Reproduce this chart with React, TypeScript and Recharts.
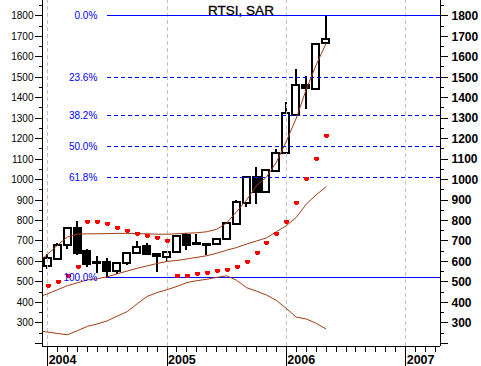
import React from 'react';
import {Bar, ComposedChart, Customized, Line, ReferenceLine, Scatter, XAxis, YAxis} from 'recharts';

const FONT = '"Liberation Sans", Arial, sans-serif';
const BROWN = '#a03c14';
const BLUE = '#0000ff';

// months on the x axis, Dec 2003 .. May 2006 (Dec 2003 only feeds the bands)
const months = [
  '2003-12',
  '2004-01', '2004-02', '2004-03', '2004-04', '2004-05', '2004-06',
  '2004-07', '2004-08', '2004-09', '2004-10', '2004-11', '2004-12',
  '2005-01', '2005-02', '2005-03', '2005-04', '2005-05', '2005-06',
  '2005-07', '2005-08', '2005-09', '2005-10', '2005-11', '2005-12',
  '2006-01', '2006-02', '2006-03', '2006-04', '2006-05',
];
const years = ['2004', '2005', '2006', '2007'];

// monthly candles Jan 2004 .. May 2006
const openVals = [578, 613, 681, 765, 650, 598, 597, 555, 590, 641, 675, 635, 622, 644, 730, 688, 686, 684, 711, 785, 885, 1012, 941, 1044, 1129, 1316, 1462, 1440, 1665];
const highVals = [635, 690, 765, 798, 662, 625, 617, 595, 645, 700, 690, 640, 648, 725, 740, 732, 690, 715, 790, 900, 1015, 1060, 1050, 1148, 1380, 1540, 1507, 1665, 1800];
const lowVals = [565, 605, 660, 630, 575, 543, 520, 540, 585, 638, 630, 548, 600, 640, 657, 680, 632, 680, 706, 778, 868, 882, 935, 1040, 1125, 1310, 1345, 1435, 1660];
const closeVals = [618, 680, 762, 641, 588, 594, 551, 592, 640, 672, 637, 628, 644, 722, 678, 684, 682, 711, 787, 888, 1012, 941, 1045, 1130, 1324, 1462, 1446, 1660, 1686];
const sarVals = [478, 500, 527, 573, 795, 795, 782, 763, 751, 735, 722, 713, 701, 527, 530, 537, 545, 555, 558, 573, 599, 641, 690, 735, 792, 885, 1003, 1101, 1215];

// bollinger bands, Dec 2003 .. May 2006
const bbUpper = [595, 635, 680, 720, 733, 735, 735, 736, 737, 737, 736, 735, 733, 733, 735, 738, 740, 745, 757, 788, 843, 900, 970, 1012, 1085, 1187, 1300, 1440, 1560, 1665];
const bbMid = [425, 442, 462, 482, 496, 510, 516, 525, 540, 553, 567, 578, 590, 600, 605, 612, 620, 628, 640, 655, 668, 685, 700, 715, 745, 775, 815, 880, 925, 965];
const bbLower = [262, 255, 248, 242, 262, 283, 295, 310, 333, 355, 393, 429, 448, 462, 478, 497, 506, 513, 522, 530, 508, 472, 455, 436, 410, 370, 328, 319, 298, 270];

// fibonacci retracement from the Jul 2004 low to the May 2006 high
const fibLabels = ['0.0%', '23.6%', '38.2%', '50.0%', '61.8%', '100.0%'];
const fibRatios = [0, 0.236, 0.382, 0.5, 0.618, 1];
const fibHigh = 1800;
const fibLow = 520;
const fibStart = 6;

const yTicks = [200, 250, 300, 350, 400, 450, 500, 550, 600, 650, 700, 750, 800, 850, 900, 950, 1000, 1050, 1100, 1150, 1200, 1250, 1300, 1350, 1400, 1450, 1500, 1550, 1600, 1650, 1700, 1750, 1800, 1850];
const xTicks = [0, 1, 2, 3, 4, 5, 6, 7, 8, 9, 10, 11, 12, 13, 14, 15, 16, 17, 18, 19, 20, 21, 22, 23, 24, 25, 26, 27, 28, 29, 30, 31, 32, 33, 34, 35, 36, 37, 38, 39];

const X_DOMAIN: [number, number] = [-0.57, 39.45];
const Y_DOMAIN: [number, number] = [187, 1877];

const data = months.map((m, k) => {
  const c = k - 1;
  const has = c >= 0;
  return {
    i: c,
    month: m,
    open: has ? openVals[c] : null,
    high: has ? highVals[c] : null,
    low: has ? lowVals[c] : null,
    close: has ? closeVals[c] : null,
    range: has ? [lowVals[c], highVals[c]] : null,
    upper: bbUpper[k],
    mid: bbMid[k],
    lower: bbLower[k],
  };
});

const sarData = sarVals.map((v, c) => ({i: c, sar: v}));

const Candle = (props: any) => {
  const {x, y, width, height, payload} = props;
  if (!payload || payload.open == null) return null;
  const {open, close, high, low} = payload;
  const top = height >= 0 ? y : y + height;
  const h = Math.abs(height);
  const ratio = high === low ? 0 : h / (high - low);
  const cx = Math.round(x + width / 2);
  const yo = top + (high - open) * ratio;
  const yc = top + (high - close) * ratio;
  const bt = Math.round(Math.min(yo, yc));
  const bb = Math.round(Math.max(yo, yc));
  const up = close >= open;
  const left = Math.round(x) + 1;
  return (
    <g shapeRendering="crispEdges">
      <line x1={cx} x2={cx} y1={top} y2={top + h} stroke="#000" strokeWidth={2} />
      <rect x={left} y={bt} width={width - 2} height={Math.max(bb - bt, 0.5)}
            fill={up ? '#fff' : '#000'} stroke="#000" strokeWidth={2} />
    </g>
  );
};

const SarDot = (props: any) => {
  const {cx, cy} = props;
  if (cx == null || cy == null) return null;
  const px = Math.round(cx);
  const py = Math.round(cy);
  return <path d={`M${px - 2.5},${py - 2} h5 v3 h-1 v1 h-3 v-1 h-1 z`} fill="#ff0000" shapeRendering="crispEdges" />;
};

const LeftTick = (props: any) => {
  const {x, y, payload} = props;
  const v = payload.value;
  const major = v % 100 === 0;
  return (
    <g>
      <line x1={x - (major ? 7 : 3.5)} x2={x} y1={y} y2={y} stroke="#000" shapeRendering="crispEdges" />
      {major && v >= 300 && v <= 1800 && (
        <text x={x - 8.5} y={y} dy="0.35em" textAnchor="end" fontSize={10} fontFamily={FONT} fill="#000">{v}</text>
      )}
    </g>
  );
};

const RightTick = (props: any) => {
  const {x, y, payload} = props;
  const v = payload.value;
  const major = v % 100 === 0;
  return (
    <g>
      <line x1={x} x2={x + (major ? 8 : 4)} y1={y} y2={y} stroke="#000" shapeRendering="crispEdges" />
      {major && v >= 300 && v <= 1800 && (
        <text x={x + 11.5} y={y} dy="0.36em" textAnchor="start" fontSize={12} fontWeight="bold" fontFamily={FONT} fill="#000">{v}</text>
      )}
    </g>
  );
};

const XTick = (props: any) => {
  const {x, y, payload} = props;
  const v = payload.value;
  const isYear = v % 12 === 0;
  return (
    <g>
      <line x1={x} x2={x} y1={y} y2={isYear ? y + 20 : y + 6} stroke="#000" shapeRendering="crispEdges" />
      {isYear && (
        <text x={x + 1} y={y + 17.5} fontSize={12.5} fontWeight="bold" fontFamily={FONT} fill="#000">{years[v / 12]}</text>
      )}
    </g>
  );
};

const Title = () => (
  <text x={241} y={15} textAnchor="middle" fontSize={13.5} fontFamily={FONT} fill="#000" stroke="#000" strokeWidth={0.3}>RTSI, SAR</text>
);

export default function App() {
  return (
    <div style={{position: 'absolute', left: 0, top: 0, width: 481, height: 366, background: '#fff'}}>
      <ComposedChart width={481} height={366} data={data} margin={{top: 0, right: 0, bottom: 0, left: 0}}>
        <XAxis dataKey="i" type="number" domain={X_DOMAIN} allowDataOverflow ticks={xTicks} interval={0}
               tick={<XTick />} tickLine={false} tickSize={0} tickMargin={0} height={20}
               axisLine={{stroke: '#000', shapeRendering: 'crispEdges'}} />
        <YAxis yAxisId="left" orientation="left" type="number" domain={Y_DOMAIN} allowDataOverflow ticks={yTicks}
               interval={0} tick={<LeftTick />} tickLine={false} tickSize={0} tickMargin={0} width={42}
               axisLine={{stroke: '#000', shapeRendering: 'crispEdges'}} />
        <YAxis yAxisId="right" orientation="right" type="number" domain={Y_DOMAIN} allowDataOverflow ticks={yTicks}
               interval={0} tick={<RightTick />} tickLine={false} tickSize={0} tickMargin={0} width={41}
               axisLine={{stroke: '#000', shapeRendering: 'crispEdges'}} />
        {years.map((yr, n) => (
          <ReferenceLine key={yr} yAxisId="left" x={n * 12} stroke="#c0c0c0" strokeDasharray="4 3"
                         shapeRendering="crispEdges" />
        ))}
        {fibLabels.map((lab, n) => {
          const level = fibHigh - fibRatios[n] * (fibHigh - fibLow);
          const solid = n === 0 || n === fibLabels.length - 1;
          return (
            <ReferenceLine key={lab} yAxisId="left"
                           segment={[{x: fibStart, y: level}, {x: X_DOMAIN[1], y: level}]}
                           stroke={BLUE} strokeWidth={1} strokeDasharray={solid ? undefined : '4 3'}
                           shapeRendering="crispEdges"
                           label={{value: lab, position: 'left', offset: 10, fill: BLUE, fontSize: 10, fontFamily: FONT}} />
          );
        })}
        <Bar yAxisId="left" dataKey="range" barSize={9} shape={<Candle />} isAnimationActive={false} />
        <Line yAxisId="left" dataKey="upper" stroke={BROWN} strokeWidth={1} dot={false} isAnimationActive={false} />
        <Line yAxisId="left" dataKey="mid" stroke={BROWN} strokeWidth={1} dot={false} isAnimationActive={false} />
        <Line yAxisId="left" dataKey="lower" stroke={BROWN} strokeWidth={1} dot={false} isAnimationActive={false} />
        <Scatter yAxisId="left" data={sarData} dataKey="sar" shape={<SarDot />} isAnimationActive={false} />
        <Customized component={Title} />
      </ComposedChart>
    </div>
  );
}
